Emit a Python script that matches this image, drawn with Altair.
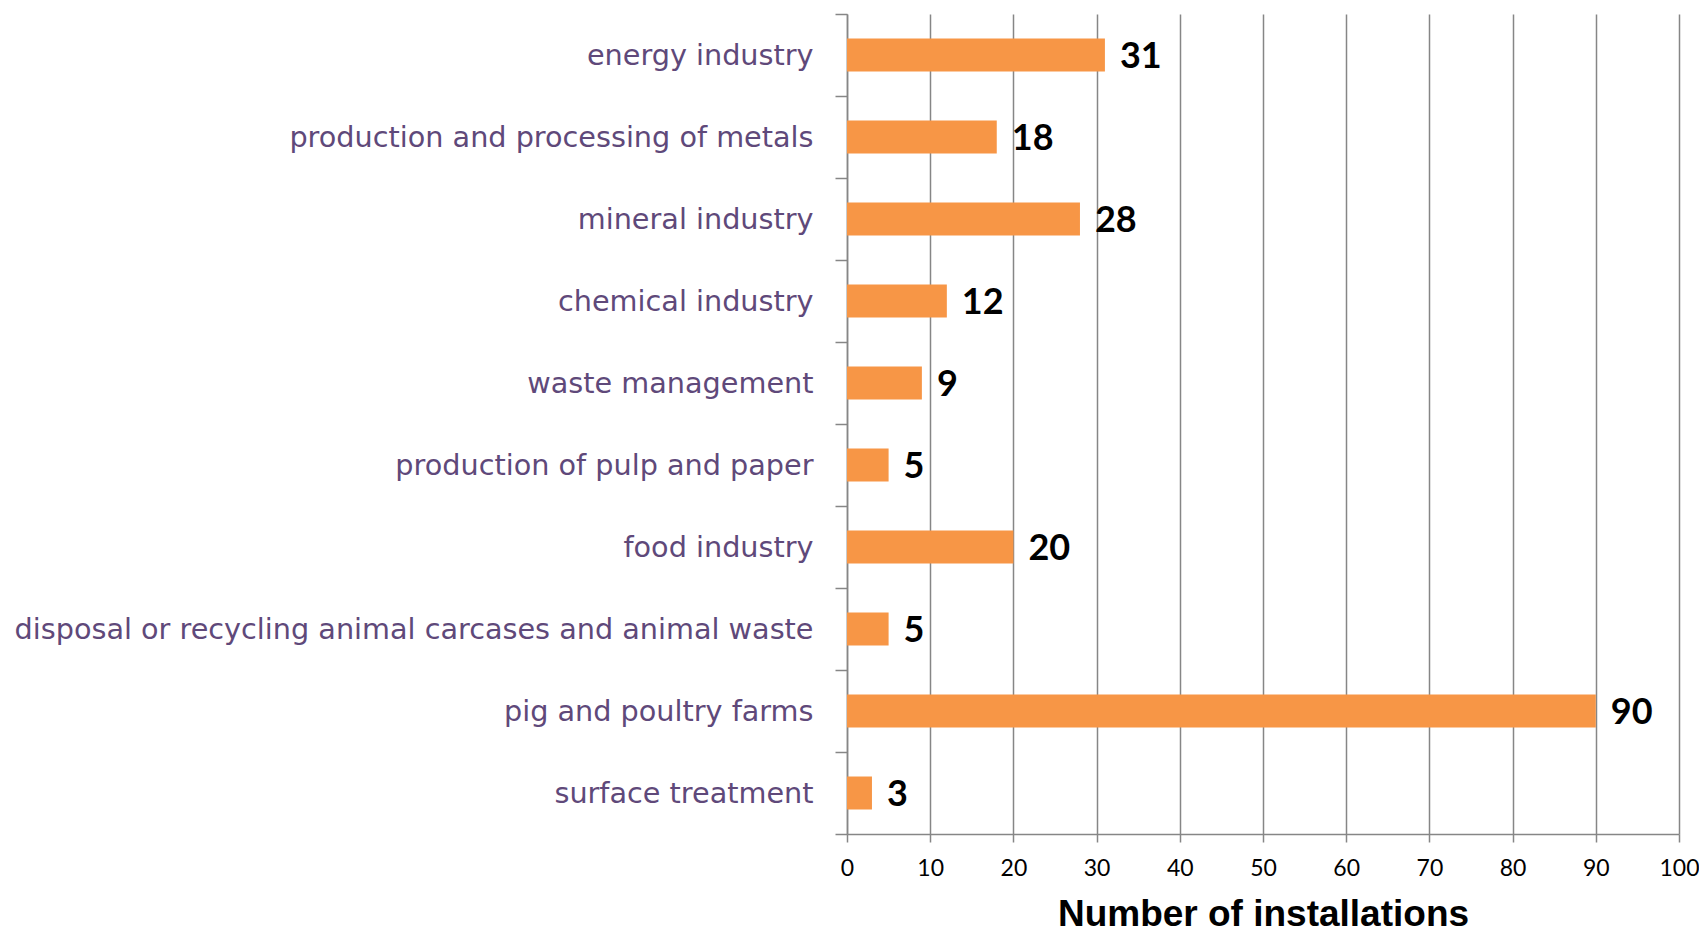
import altair as alt
import pandas as pd

categories = [
    "energy industry",
    "production and processing of metals",
    "mineral industry",
    "chemical industry",
    "waste management",
    "production of pulp and paper",
    "food industry",
    "disposal or recycling animal carcases and animal waste",
    "pig and poultry farms",
    "surface treatment",
]
values = [31, 18, 28, 12, 9, 5, 20, 5, 90, 3]
x_ticks = [0, 10, 20, 30, 40, 50, 60, 70, 80, 90, 100]

df = pd.DataFrame({"category": categories, "value": values})

y_enc = alt.Y(
    "category:N",
    sort=categories,
    scale=alt.Scale(paddingInner=0, paddingOuter=0),
    axis=alt.Axis(
        title=None,
        tickBand="extent",
        tickSize=12,
        tickColor="#868686",
        tickWidth=1.5,
        domainColor="#868686",
        domainWidth=1.5,
        labelFont="DejaVu Sans",
        labelFontSize=28.7,
        labelColor="#5F497A",
        labelPadding=22,
        labelLimit=0,
        grid=False,
    ),
)

x_enc = alt.X(
    "value:Q",
    scale=alt.Scale(domain=[0, 100], nice=False),
    axis=alt.Axis(
        values=x_ticks,
        title="Number of installations",
        titleFont="Liberation Sans",
        titleFontSize=37,
        titleFontWeight="bold",
        titleColor="#000000",
        titlePadding=16,
        labelFont="Lato",
        labelFontSize=23,
        labelColor="#000000",
        labelPadding=15,
        labelFlush=False,
        tickSize=8,
        tickColor="#868686",
        tickWidth=1.5,
        domainColor="#868686",
        domainWidth=1.5,
        grid=True,
        gridColor="#868686",
        gridWidth=1.5,
    ),
)

base = alt.Chart(df).encode(x=x_enc, y=y_enc)

bars = base.mark_bar(color="#F79646", size=33)

labels = base.mark_text(
    align="left",
    baseline="middle",
    dx=15,
    dy=2,
    font="Lato",
    fontSize=36,
    fontWeight="bold",
    color="#000000",
).encode(text=alt.Text("value:Q"))

chart = (
    alt.layer(bars, labels)
    .properties(
        width=832,
        height=820,
        autosize=alt.AutoSizeParams(type="none"),
        padding={"left": 839, "top": 6, "right": 20, "bottom": 100},
    )
    .configure_view(strokeWidth=0, stroke="transparent", fill="white")
    .configure_axisY(grid=False)
    .configure_axisBand(grid=False)
    .configure(background="white", style={"cell": {"stroke": "transparent", "strokeWidth": 0}})
)

chart.save("out.html", embed_options={"renderer": "svg", "actions": False})
